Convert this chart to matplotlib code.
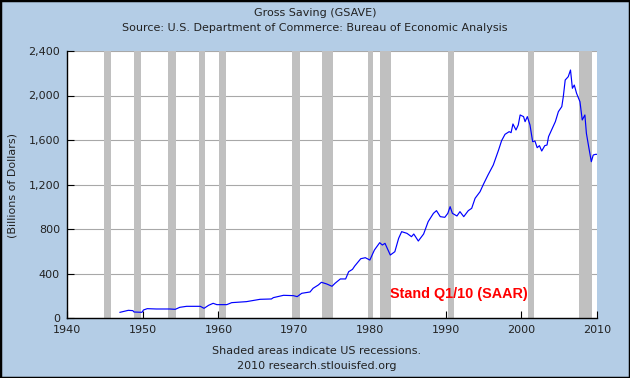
import matplotlib
matplotlib.use("Agg")
import matplotlib.pyplot as plt
from matplotlib.patches import Rectangle

title = "Gross Saving (GSAVE)"
subtitle = "Source: U.S. Department of Commerce: Bureau of Economic Analysis"
ylabel = "(Billions of Dollars)"
note1 = "Shaded areas indicate US recessions."
note2 = "2010 research.stlouisfed.org"
stamp = "Stand Q1/10 (SAAR)"

years = [1947.0, 1948.1, 1948.7, 1948.85, 1949.9, 1950.1, 1950.6, 1951.8, 1953.6, 1954.3,
         1954.9, 1955.8, 1957.6, 1958.1, 1958.7, 1959.3, 1959.8, 1961.1, 1961.75, 1963.7,
         1965.5, 1967.0, 1967.25, 1968.6, 1969.9, 1970.4, 1971.0, 1972.1, 1972.5, 1973.2,
         1973.6, 1974.3, 1975.0, 1975.4, 1976.1, 1976.8, 1977.2, 1977.7, 1978.0, 1978.8,
         1979.4, 1980.0, 1980.6, 1981.3, 1981.65, 1982.0, 1982.7, 1983.3, 1983.8, 1984.2,
         1984.9, 1985.5, 1985.8, 1986.4, 1987.1, 1987.7, 1988.4, 1988.8, 1989.3, 1989.9,
         1990.3, 1990.6, 1990.9, 1991.5, 1991.9, 1992.4, 1993.0, 1993.45, 1993.9, 1994.55,
         1995.0, 1995.6, 1996.3, 1997.0, 1997.4, 1997.85, 1998.4, 1998.65, 1998.9, 1999.3,
         1999.6, 1999.85, 2000.3, 2000.5, 2000.8, 2001.15, 2001.5, 2001.8, 2002.1, 2002.4,
         2002.7, 2003.1, 2003.4, 2003.6, 2004.0, 2004.5, 2004.9, 2005.35, 2005.55, 2005.8,
         2006.2, 2006.5, 2006.75, 2007.0, 2007.3, 2007.75, 2008.05, 2008.4, 2008.6, 2008.9,
         2009.25, 2009.5, 2009.8, 2010.0]
values = [51, 69, 66, 54, 51, 72, 84, 81, 81, 78,
          96, 105, 105, 87, 114, 132, 120, 120, 138, 147,
          168, 171, 183, 204, 201, 192, 222, 234, 267, 297,
          321, 306, 285, 312, 351, 351, 416, 437, 467, 533,
          542, 521, 611, 677, 656, 671, 566, 596, 716, 776,
          761, 731, 755, 692, 755, 866, 941, 965, 911, 905,
          941, 1001, 941, 917, 956, 911, 965, 986, 1076, 1135,
          1202, 1285, 1375, 1510, 1594, 1651, 1675, 1666, 1744, 1690,
          1735, 1825, 1810, 1765, 1810, 1735, 1585, 1591, 1531, 1549,
          1501, 1549, 1555, 1630, 1690, 1765, 1855, 1900, 1990, 2139,
          2169, 2229, 2065, 2094, 2020, 1944, 1780, 1825, 1660, 1540,
          1405, 1465, 1471, 1471]

rec_start = [1944.95, 1948.8, 1953.4, 1957.4, 1960.1, 1969.75, 1973.7, 1979.8, 1981.3, 1990.3, 2000.85, 2007.65]
rec_end = [1945.75, 1949.8, 1954.4, 1958.25, 1961.0, 1970.8, 1975.15, 1980.4, 1982.8, 1991.15, 2001.7, 2009.35]

xticks = [1940, 1950, 1960, 1970, 1980, 1990, 2000, 2010]
yticks = [0, 400, 800, 1200, 1600, 2000, 2400]
ytick_labels = ["0", "400", "800", "1,200", "1,600", "2,000", "2,400"]

bg = "#B4CDE6"
fig = plt.figure(figsize=(6.3, 3.78), dpi=100, facecolor=bg)
ax = fig.add_axes([67/630, 60/378, 530/630, 267/378])
ax.set_facecolor("white")

for s, e in zip(rec_start, rec_end):
    ax.axvspan(s, e, color="#C0C0C0", lw=0, zorder=1)

ax.set_yticks(yticks)
ax.set_yticklabels(ytick_labels)
ax.set_xticks(xticks)
ax.set_xlim(1940, 2010)
ax.set_ylim(0, 2400)
ax.yaxis.grid(True, color="#A8A8A8", lw=0.8, zorder=0)
ax.set_axisbelow(True)

ax.plot(years, values, color="#0000FF", lw=0.85, zorder=3)

for sp in ["top", "right"]:
    ax.spines[sp].set_visible(False)
for sp in ["left", "bottom"]:
    ax.spines[sp].set_color("black")
    ax.spines[sp].set_linewidth(1.0)
    ax.spines[sp].set_zorder(4)

ax.tick_params(axis="both", direction="in", length=5, width=0.8, color="black",
               labelsize=8, labelcolor="#222222")
ax.tick_params(axis="x", pad=5)
ax.tick_params(axis="y", pad=5)

fig.text(315/630, 1 - 13/378, title, ha="center", va="center", fontsize=8, color="#222222")
fig.text(315/630, 1 - 28/378, subtitle, ha="center", va="center", fontsize=8, color="#222222")
fig.text(13/630, 1 - 185/378, ylabel, ha="center", va="center", rotation=90, fontsize=8, color="#222222")
fig.text(317/630, 1 - 351/378, note1, ha="center", va="center", fontsize=8, color="#222222")
fig.text(317/630, 1 - 366/378, note2, ha="center", va="center", fontsize=8, color="#222222")

ax.text((390 - 67)/530, (318 - 294)/267, stamp, transform=ax.transAxes, ha="left", va="center",
        fontsize=10.4, fontweight="bold", color="#FF0000", family="Liberation Sans", zorder=5)

fig.patches.append(Rectangle((0, 0), 1, 1, transform=fig.transFigure, fill=False,
                             edgecolor="black", lw=2.5))

fig.savefig("out.png", dpi=100, facecolor=bg)
